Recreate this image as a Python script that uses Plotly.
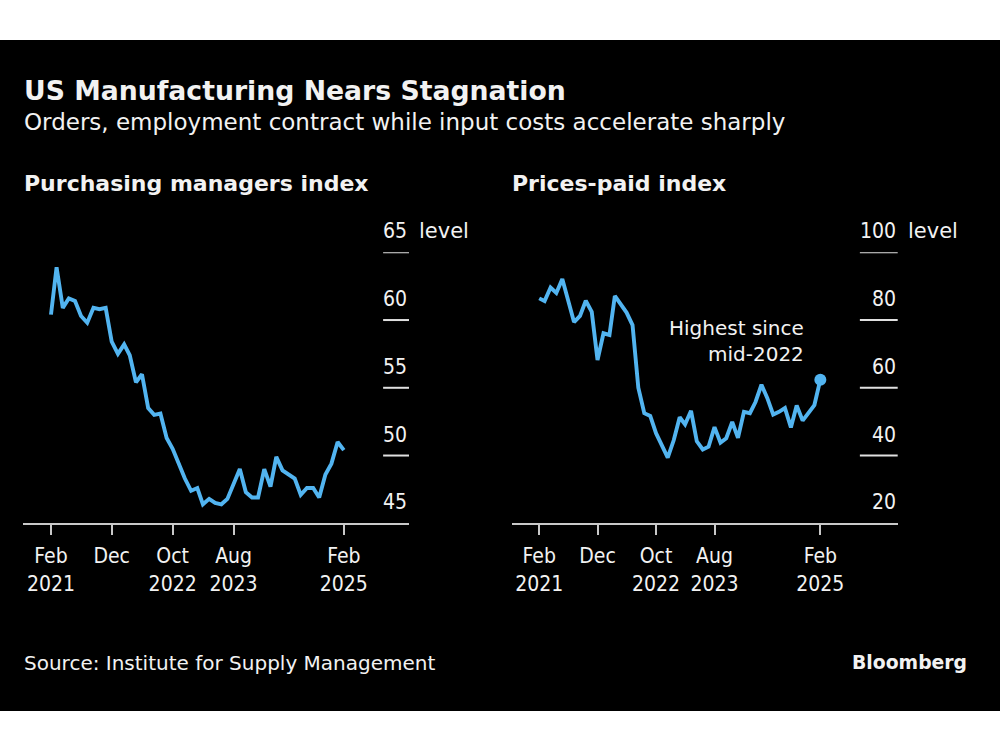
import pandas as pd
import plotly.graph_objects as go

# ---------------- data ----------------
months = pd.date_range("2021-02-01", "2025-02-01", freq="MS")

pmi = [60.4, 63.9, 60.9, 61.6, 61.4, 60.3, 59.8, 60.9, 60.8, 60.9,
       58.4, 57.5, 58.2, 57.4, 55.4, 56.0, 53.5, 53.0, 53.1, 51.3,
       50.5, 49.3, 48.3, 47.4, 47.6, 46.4, 46.8, 46.5, 46.4, 46.8,
       47.9, 49.0, 47.3, 46.9, 46.9, 49.0, 47.7, 49.9, 48.9, 48.6,
       48.3, 47.1, 47.6, 47.6, 46.9, 48.6, 49.4, 51.0, 50.4]

prices = [86.4, 85.6, 89.6, 88.0, 92.1, 85.7, 79.4, 81.2, 85.7, 82.4,
          68.2, 76.1, 75.6, 87.1, 84.6, 82.2, 78.5, 60.0, 52.5, 51.7,
          46.6, 43.0, 39.4, 44.5, 51.3, 49.2, 53.2, 44.2, 41.8, 42.6,
          48.4, 43.8, 45.1, 49.9, 45.2, 52.9, 52.5, 55.8, 60.9, 57.0,
          52.1, 52.9, 54.0, 48.3, 54.8, 50.3, 52.5, 54.9, 62.4]

x_tickvals = ["2021-02-01", "2021-12-01", "2022-10-01", "2023-08-01", "2025-02-01"]
x_ticktext = ["Feb<br>2021", "Dec", "Oct<br>2022", "Aug<br>2023", "Feb<br>2025"]

pmi_ticks = [45, 50, 55, 60, 65]
price_ticks = [20, 40, 60, 80, 100]

title = "US Manufacturing Nears Stagnation"
subtitle = "Orders, employment contract while input costs accelerate sharply"
left_title = "Purchasing managers index"
right_title = "Prices-paid index"
source = "Source: Institute for Supply Management"
note = "Highest since<br>mid-2022"

# ---------------- styling ----------------
LINE = "#52B4F0"
TXT = "#F2F2F2"
AXIS = "#C8C8C8"
FONT = "DejaVu Sans"
TICKFONT = "DejaVu Sans Condensed, DejaVu Sans"

fig = go.Figure()
fig.add_trace(go.Scatter(x=months, y=pmi, mode="lines",
                         line=dict(color=LINE, width=3.9), xaxis="x", yaxis="y",
                         hoverinfo="skip"))
fig.add_trace(go.Scatter(x=months, y=prices, mode="lines",
                         line=dict(color=LINE, width=3.9), xaxis="x2", yaxis="y2",
                         hoverinfo="skip"))
fig.add_trace(go.Scatter(x=[months[-1]], y=[prices[-1]], mode="markers",
                         marker=dict(color=LINE, size=12), xaxis="x2", yaxis="y2",
                         hoverinfo="skip"))

ydom = [0.3023, 0.6636]
xaxis_common = dict(
    type="date", showgrid=False, zeroline=False, showline=True,
    linecolor=AXIS, linewidth=2, ticks="outside", ticklen=10, tickwidth=1.5,
    tickcolor=AXIS, tickvals=x_tickvals, ticktext=x_ticktext,
    ticklabelstandoff=3,
    tickfont=dict(family=TICKFONT, size=21, color=TXT), fixedrange=True,
)
fig.update_layout(
    width=1000, height=750, margin=dict(l=0, r=0, t=0, b=0),
    paper_bgcolor="white", plot_bgcolor="rgba(0,0,0,0)",
    showlegend=False,
    xaxis=dict(domain=[0.0227, 0.409], range=["2020-09-13", "2025-12-23"],
               anchor="y", **xaxis_common),
    xaxis2=dict(domain=[0.5117, 0.8977], range=["2020-09-11", "2026-03-10"],
                anchor="y2", **xaxis_common),
    yaxis=dict(domain=ydom, range=[pmi_ticks[0], pmi_ticks[-1]], visible=False,
               fixedrange=True, anchor="x"),
    yaxis2=dict(domain=ydom, range=[price_ticks[0], price_ticks[-1]], visible=False,
                fixedrange=True, anchor="x2"),
)

shapes = [dict(type="rect", xref="paper", yref="paper", x0=0, x1=1,
               y0=(750 - 711) / 750, y1=(750 - 40) / 750,
               fillcolor="black", line=dict(width=0), layer="below")]
annotations = []

for xa, ya, ticks, stub in (("x", "y", pmi_ticks, 0.933), ("x2", "y2", price_ticks, 0.902)):
    for i, v in enumerate(ticks):
        if i > 0:
            shapes.append(dict(type="line", xref=f"{xa} domain", yref=ya,
                               x0=stub, x1=1, y0=v, y1=v,
                               line=dict(color="#E0E0E0", width=2)))
        annotations.append(dict(xref=f"{xa} domain", yref=ya, x=1, y=v,
                                text=str(v), showarrow=False, xanchor="right",
                                yanchor="middle", yshift=21,
                                font=dict(family=TICKFONT, size=21, color=TXT)))
    annotations.append(dict(xref=f"{xa} domain", yref=ya, x=1, y=ticks[-1],
                            text="level", showarrow=False, xanchor="left",
                            yanchor="middle", yshift=21, xshift=8,
                            font=dict(family=FONT, size=21, color=TXT)))

def ptxt(text, x, py, size, bold=False, xanchor="left"):
    return dict(xref="paper", yref="paper", x=x, y=(750 - py) / 750,
                text=f"<b>{text}</b>" if bold else text, showarrow=False,
                xanchor=xanchor, yanchor="middle",
                font=dict(family=FONT, size=size, color=TXT))

annotations += [
    ptxt(title, 0.022, 90, 26.7, bold=True),
    ptxt(subtitle, 0.022, 122, 23),
    ptxt(left_title, 0.022, 184, 22, bold=True),
    ptxt(right_title, 0.510, 184, 22, bold=True),
    ptxt(source, 0.022, 663, 20),
    ptxt("Bloomberg", 0.969, 662, 18.8, bold=True, xanchor="right"),
]

annotations.append(dict(xref="x2", yref="y2", x=months[-1], y=prices[-1],
                        text=note, showarrow=False, xanchor="right", yanchor="bottom",
                        align="right", xshift=-14, yshift=12,
                        font=dict(family=FONT, size=20, color=TXT)))

fig.update_layout(shapes=shapes, annotations=annotations)
fig.write_html("out.html")
